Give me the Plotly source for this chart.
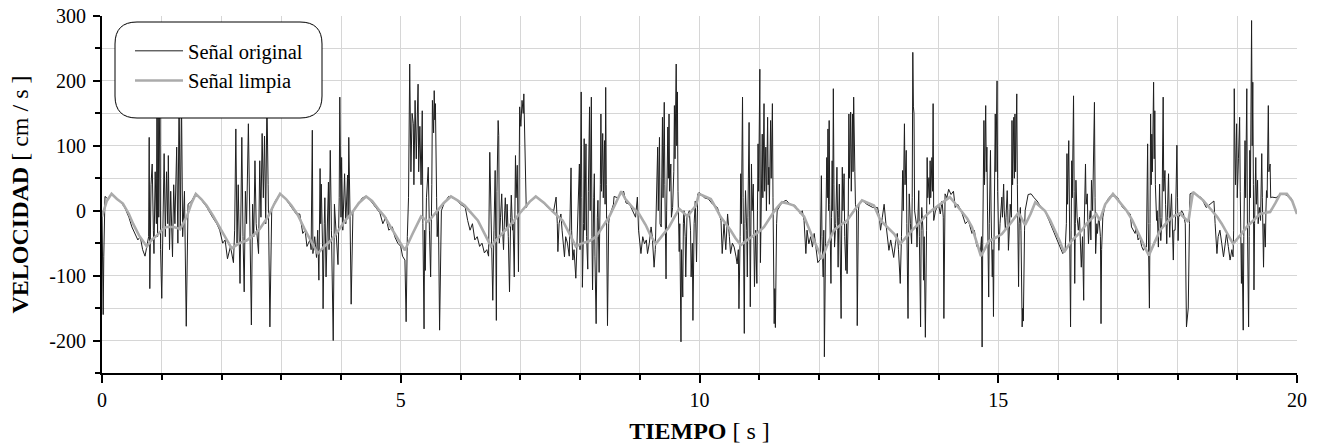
import plotly.graph_objects as go

# ---------------- data ----------------
# clean signal: (time [s], velocity [cm/s])
clean_points = [
    (0.00, -9), (0.08, 15), (0.16, 26), (0.25, 18), (0.35, 11), (0.45, -5), (0.52, -20), (0.62, -38),
    (0.75, -55), (0.83, -45), (0.92, -38), (1.00, -30), (1.08, -25), (1.20, -25), (1.31, -28), (1.42, -9),
    (1.50, 12), (1.57, 26), (1.66, 18), (1.75, 8), (1.86, -8), (1.97, -25), (2.07, -42), (2.17, -58),
    (2.30, -50), (2.42, -46), (2.53, -38), (2.64, -28), (2.78, -9), (2.88, 10), (2.98, 26), (3.08, 18),
    (3.17, 8), (3.28, -7), (3.40, -30), (3.50, -48), (3.61, -66), (3.72, -55), (3.83, -46), (3.92, -35),
    (4.00, -24), (4.08, -14), (4.17, -5), (4.30, 12), (4.42, 22), (4.52, 15), (4.62, 3), (4.73, -9),
    (4.85, -28), (4.96, -45), (5.07, -61), (5.20, -35), (5.34, -9), (5.46, -17), (5.54, -8), (5.62, 0),
    (5.72, 12), (5.84, 22), (5.95, 16), (6.07, 8), (6.18, -3), (6.29, -15), (6.40, -35), (6.51, -55),
    (6.59, -46), (6.70, -35), (6.81, -25), (6.90, -15), (6.98, -5), (7.06, 3), (7.16, 14), (7.26, 22),
    (7.40, 12), (7.54, -1), (7.62, -8), (7.71, -15), (7.82, -35), (7.93, -55), (8.04, -50), (8.15, -47),
    (8.27, -40), (8.38, -25), (8.49, -9), (8.60, 12), (8.69, 30), (8.76, 18), (8.82, 11), (8.90, 3),
    (8.99, -5), (9.10, -22), (9.18, -38), (9.27, -51), (9.38, -38), (9.49, -25), (9.58, -10), (9.66, 3),
    (9.73, -3), (9.80, -9), (9.87, 0), (9.94, 8), (9.99, 26), (10.09, 22), (10.19, 18), (10.27, 5),
    (10.35, -9), (10.44, -20), (10.52, -30), (10.60, -42), (10.69, -53), (10.80, -45), (10.91, -38),
    (11.00, -32), (11.08, -25), (11.17, -12), (11.25, -1), (11.32, 7), (11.38, 13), (11.48, 11),
    (11.58, 8), (11.66, 0), (11.75, -9), (11.88, -38), (11.96, -56), (12.05, -74), (12.15, -50),
    (12.25, -30), (12.36, -22), (12.47, -15), (12.60, 2), (12.72, 16), (12.82, 12), (12.92, 8),
    (13.03, -15), (13.14, -25), (13.26, -36), (13.36, -51), (13.46, -40), (13.56, -30), (13.67, -20),
    (13.77, -9), (13.88, 0), (14.00, 8), (14.10, 14), (14.19, 21), (14.29, 10), (14.39, -1), (14.48, -12),
    (14.56, -25), (14.63, -45), (14.71, -70), (14.78, -58), (14.84, -47), (14.95, -42), (15.06, -36),
    (15.20, -20), (15.34, -3), (15.45, -22), (15.54, -5), (15.62, 13), (15.70, 7), (15.78, 0),
    (15.87, -15), (15.95, -30), (16.03, -47), (16.10, -64), (16.17, -55), (16.23, -46), (16.32, -38),
    (16.40, -30), (16.48, -20), (16.57, -11), (16.64, -5), (16.70, -15), (16.79, 10), (16.92, 26),
    (17.03, 14), (17.15, 0), (17.24, -14), (17.32, -30), (17.42, -50), (17.52, -69), (17.62, -48),
    (17.71, -30), (17.82, -18), (17.92, -9), (18.04, -4), (18.18, -17), (18.26, 29), (18.35, 22),
    (18.43, 16), (18.55, 3), (18.66, -9), (18.74, -20), (18.82, -33), (18.93, -51), (19.05, -38),
    (19.16, -25), (19.27, -15), (19.38, -5), (19.47, -3), (19.55, -2), (19.64, 12), (19.72, 26),
    (19.83, 26), (19.92, 15), (20.00, -5),
]

# original (noisy) signal: (time [s], velocity [cm/s])
orig_points = [
    (0.00, 0), (0.02, -160), (0.03, -70), (0.05, 22), (0.10, 18), (0.16, 25), (0.22, 20), (0.30, 15),
    (0.38, 5), (0.45, -10), (0.50, -25), (0.55, -35), (0.60, -45), (0.64, -40), (0.68, -60), (0.72, -70),
    (0.75, -55), (0.78, -40), (0.79, 113), (0.80, -120), (0.82, 40), (0.84, 72), (0.86, -30), (0.87, -66),
    (0.89, 60), (0.91, -20), (0.92, 150), (0.93, -40), (0.94, 190), (0.95, -10), (0.97, 200), (0.98, -60),
    (1.00, -135), (1.02, 20), (1.04, 88), (1.06, -40), (1.08, 60), (1.10, -20), (1.11, 85), (1.13, -60),
    (1.15, 30), (1.18, -71), (1.20, 40), (1.22, -20), (1.25, 98), (1.27, -50), (1.29, 180), (1.31, -30),
    (1.33, 175), (1.35, -40), (1.38, 30), (1.41, -178), (1.44, 10), (1.50, 15), (1.57, 27), (1.65, 18),
    (1.75, 6), (1.85, -10), (1.92, -20), (1.97, -30), (2.02, -50), (2.06, -45), (2.10, -74), (2.15, -55),
    (2.20, -80), (2.22, -30), (2.24, 126), (2.26, -50), (2.28, 40), (2.31, -112), (2.33, 20), (2.34, 113),
    (2.36, -40), (2.38, -125), (2.40, 30), (2.42, -20), (2.45, 134), (2.47, -30), (2.50, -176), (2.52, 10),
    (2.54, -40), (2.56, 77), (2.58, -20), (2.62, -66), (2.64, 77), (2.66, -10), (2.68, 119), (2.70, 20),
    (2.72, 115), (2.74, -20), (2.76, 175), (2.78, 40), (2.81, -179), (2.84, 0), (2.90, 15), (2.98, 26),
    (3.06, 20), (3.15, 8), (3.25, -5), (3.31, -5), (3.34, -20), (3.36, -35), (3.40, -30), (3.43, -55),
    (3.45, -51), (3.48, -45), (3.50, -60), (3.52, 124), (3.53, -66), (3.56, -40), (3.59, -72), (3.61, -30),
    (3.63, -107), (3.65, 65), (3.66, -20), (3.67, 41), (3.69, -50), (3.70, -151), (3.72, -20), (3.73, 20),
    (3.75, -102), (3.77, -10), (3.79, 44), (3.80, -60), (3.82, 93), (3.84, -30), (3.87, -200), (3.89, 10),
    (3.92, -40), (3.95, -83), (3.97, 20), (3.98, 175), (4.00, -10), (4.01, 82), (4.03, -30), (4.06, 57),
    (4.08, -20), (4.11, 55), (4.12, -10), (4.13, 113), (4.15, 0), (4.17, -144), (4.20, 0), (4.28, 10),
    (4.36, 20), (4.42, 22), (4.50, 15), (4.58, 5), (4.65, -3), (4.70, -20), (4.75, -10), (4.80, -30),
    (4.86, -25), (4.90, -40), (4.95, -50), (5.00, -55), (5.03, -70), (5.07, -76), (5.09, -171), (5.11, -40),
    (5.13, 20), (5.15, 226), (5.17, 60), (5.19, 150), (5.21, 134), (5.22, 40), (5.24, 170), (5.26, 80),
    (5.29, 195), (5.30, 60), (5.32, 130), (5.34, 40), (5.36, 154), (5.37, -20), (5.39, -182), (5.40, -30),
    (5.41, -92), (5.43, 20), (5.46, 67), (5.48, -30), (5.50, -102), (5.52, 40), (5.53, 170), (5.55, 120),
    (5.56, 185), (5.57, 140), (5.58, 165), (5.60, 20), (5.61, -40), (5.63, 0), (5.65, -184), (5.68, 0),
    (5.72, 10), (5.80, 22), (5.86, 20), (5.92, 18), (6.00, 10), (6.08, 5), (6.12, -15), (6.16, -30),
    (6.20, -20), (6.24, -45), (6.28, -40), (6.32, -55), (6.36, -50), (6.40, -65), (6.44, -60), (6.47, -70),
    (6.49, 90), (6.51, -20), (6.52, -50), (6.54, -138), (6.56, -30), (6.58, 62), (6.59, -40), (6.60, -169),
    (6.61, 30), (6.62, 129), (6.63, 139), (6.64, 116), (6.65, -50), (6.67, -10), (6.69, 26), (6.71, -40),
    (6.72, -60), (6.74, 0), (6.75, 20), (6.77, -30), (6.78, 10), (6.80, -40), (6.82, -125), (6.84, -10),
    (6.85, 24), (6.87, -30), (6.88, -20), (6.90, -102), (6.92, 85), (6.93, 20), (6.95, 70), (6.96, -10),
    (6.97, -94), (6.99, 160), (7.01, 130), (7.03, 170), (7.05, 150), (7.06, 180), (7.08, 100), (7.09, 88),
    (7.10, 5), (7.16, 15), (7.26, 22), (7.36, 15), (7.46, 5), (7.56, 0), (7.60, 21), (7.62, -20),
    (7.63, -63), (7.65, -20), (7.68, -5), (7.70, -30), (7.74, -71), (7.76, -40), (7.79, -50), (7.82, -70),
    (7.85, 66), (7.86, -30), (7.88, -76), (7.90, -60), (7.93, -104), (7.95, -50), (7.99, 72), (8.00, -60),
    (8.02, 183), (8.03, 20), (8.04, -118), (8.06, -20), (8.07, 111), (8.08, -30), (8.10, 103), (8.11, -40),
    (8.13, -90), (8.14, 30), (8.16, 160), (8.17, 0), (8.19, 175), (8.20, -40), (8.21, -122), (8.23, 20),
    (8.24, 57), (8.25, -70), (8.27, -174), (8.29, -10), (8.30, 16), (8.31, -40), (8.32, -95), (8.34, 40),
    (8.35, 149), (8.36, 30), (8.38, 119), (8.39, 20), (8.41, 108), (8.42, 10), (8.43, 190), (8.44, 40),
    (8.46, -177), (8.48, -20), (8.49, -10), (8.56, 10), (8.57, 22), (8.63, 20), (8.68, 25), (8.73, 30),
    (8.77, 12), (8.83, 10), (8.88, 0), (8.93, -10), (8.96, 21), (8.98, -30), (9.02, -66), (9.05, -40),
    (9.08, -51), (9.11, -45), (9.13, -66), (9.16, -50), (9.19, -25), (9.21, -40), (9.24, -87), (9.26, -60),
    (9.30, 98), (9.31, 0), (9.33, 113), (9.34, -20), (9.36, -25), (9.37, 30), (9.38, 144), (9.39, 20),
    (9.41, 167), (9.42, 40), (9.44, -105), (9.45, 0), (9.47, 129), (9.48, 50), (9.49, 149), (9.50, 30),
    (9.52, 72), (9.53, -10), (9.55, 5), (9.57, 60), (9.58, 162), (9.59, 80), (9.61, 226), (9.62, 100),
    (9.63, 183), (9.64, 30), (9.66, -63), (9.67, -20), (9.69, -202), (9.70, -60), (9.72, -133), (9.73, -20),
    (9.74, 0), (9.76, -40), (9.77, -102), (9.79, -10), (9.83, 0), (9.85, -30), (9.86, -102), (9.88, -50),
    (9.89, -169), (9.91, -20), (9.93, 15), (9.95, -79), (9.97, 26), (10.00, 28), (10.08, 20), (10.15, 18),
    (10.22, 10), (10.30, 5), (10.36, -15), (10.38, -66), (10.41, -20), (10.44, -60), (10.47, -5),
    (10.50, -40), (10.52, -66), (10.55, -50), (10.58, -56), (10.61, -70), (10.63, -82), (10.65, -60),
    (10.66, -151), (10.68, -40), (10.69, 57), (10.70, -20), (10.72, 175), (10.73, 20), (10.75, -189),
    (10.76, -20), (10.77, 31), (10.79, -30), (10.80, -102), (10.81, -10), (10.83, 136), (10.84, 0),
    (10.85, -148), (10.86, -30), (10.87, 72), (10.88, 0), (10.90, 41), (10.91, -40), (10.92, -117),
    (10.94, -30), (10.96, -112), (10.97, 0), (10.98, 103), (10.99, 30), (11.01, 218), (11.02, -80),
    (11.03, -20), (11.05, 118), (11.06, 20), (11.08, 165), (11.09, 30), (11.11, 98), (11.12, 0),
    (11.14, 144), (11.15, 40), (11.16, 67), (11.17, 10), (11.19, 139), (11.20, 50), (11.22, 165),
    (11.23, 20), (11.25, -174), (11.26, -120), (11.27, -180), (11.29, -20), (11.30, 0), (11.38, 13),
    (11.45, 16), (11.52, 10), (11.60, 8), (11.69, -5), (11.72, 0), (11.75, -15), (11.78, -66), (11.80, -30),
    (11.83, -51), (11.86, -40), (11.89, -56), (11.92, -35), (11.95, -60), (11.98, -80), (12.02, -75),
    (12.03, -5), (12.04, 54), (12.05, -40), (12.07, -102), (12.08, -30), (12.09, -225), (12.11, -50),
    (12.13, 82), (12.14, 20), (12.15, 126), (12.16, 0), (12.17, 139), (12.18, 10), (12.20, -112),
    (12.21, -10), (12.22, 77), (12.23, 0), (12.24, 188), (12.25, 40), (12.26, -56), (12.28, -20),
    (12.30, 67), (12.31, 0), (12.32, -87), (12.33, -10), (12.34, 41), (12.35, -30), (12.37, -166),
    (12.38, -20), (12.39, 67), (12.40, 0), (12.42, 57), (12.43, -40), (12.45, -92), (12.46, -20),
    (12.47, -97), (12.49, 0), (12.50, 149), (12.51, 50), (12.53, 152), (12.54, 30), (12.56, 149),
    (12.57, 60), (12.58, 175), (12.60, 60), (12.61, 10), (12.63, 0), (12.64, -177), (12.66, 0), (12.67, 10),
    (12.72, 16), (12.80, 10), (12.90, 5), (12.98, 5), (13.01, -10), (13.03, -30), (13.06, -10), (13.09, 10),
    (13.12, -20), (13.15, -40), (13.17, -61), (13.20, -45), (13.23, -66), (13.25, -72), (13.28, -50),
    (13.31, -35), (13.33, -60), (13.36, -112), (13.38, -40), (13.40, 62), (13.41, 0), (13.43, 134),
    (13.44, 40), (13.46, 93), (13.47, -20), (13.49, -166), (13.50, -40), (13.51, 26), (13.53, -20),
    (13.55, -51), (13.56, 20), (13.57, 244), (13.58, 160), (13.59, 150), (13.60, 0), (13.61, -5),
    (13.63, -20), (13.64, -56), (13.65, -10), (13.67, 31), (13.68, -40), (13.70, -179), (13.71, -30),
    (13.72, 5), (13.74, -30), (13.75, -107), (13.76, -40), (13.78, -195), (13.80, -30), (13.81, 82),
    (13.82, 20), (13.84, 51), (13.85, 10), (13.86, 77), (13.87, 20), (13.89, 82), (13.90, 30), (13.91, 165),
    (13.92, -15), (13.95, 0), (14.00, 10), (14.03, -5), (14.06, 15), (14.08, -10), (14.09, -166), (14.10, 0),
    (14.11, 26), (14.14, 20), (14.17, 33), (14.21, 25), (14.25, 30), (14.28, 5), (14.32, 10), (14.38, 0),
    (14.45, -20), (14.50, -15), (14.56, -35), (14.60, -30), (14.64, -55), (14.67, -56), (14.70, -65),
    (14.72, -40), (14.73, -210), (14.74, -50), (14.76, 139), (14.77, 40), (14.79, 162), (14.80, 60),
    (14.81, 98), (14.82, 0), (14.84, -133), (14.85, -20), (14.87, 93), (14.88, 0), (14.90, -102),
    (14.91, -60), (14.92, -163), (14.93, -40), (14.95, 149), (14.96, 60), (14.98, 200), (14.99, 30),
    (15.01, -61), (15.03, -20), (15.06, 21), (15.07, -10), (15.09, 41), (15.10, 0), (15.12, -30),
    (15.13, -10), (15.15, 31), (15.16, 0), (15.17, -61), (15.19, -20), (15.20, 10), (15.22, -10),
    (15.23, 139), (15.24, 40), (15.26, 144), (15.27, 50), (15.28, 149), (15.29, 60), (15.31, 180),
    (15.32, 40), (15.34, -117), (15.35, -20), (15.37, 5), (15.38, -30), (15.40, -179), (15.41, -150),
    (15.42, -170), (15.44, -30), (15.45, 0), (15.50, 25), (15.55, 26), (15.60, 20), (15.65, 15), (15.72, 5),
    (15.78, 0), (15.85, -15), (15.92, -30), (15.98, -45), (16.04, -55), (16.08, -66), (16.12, -60),
    (16.14, -20), (16.15, 88), (16.16, 10), (16.18, 108), (16.19, 0), (16.21, -179), (16.22, -30),
    (16.23, 77), (16.24, 20), (16.26, 177), (16.27, 30), (16.28, -112), (16.29, -20), (16.30, 47),
    (16.32, -10), (16.34, -30), (16.36, -10), (16.39, -87), (16.41, -40), (16.43, -138), (16.44, -20),
    (16.46, 72), (16.47, 10), (16.49, 26), (16.50, -20), (16.51, -51), (16.53, -10), (16.54, 0),
    (16.55, -45), (16.56, 47), (16.58, 0), (16.59, 47), (16.60, 80), (16.61, 167), (16.62, 20),
    (16.63, -66), (16.65, -20), (16.66, -35), (16.68, -10), (16.69, -15), (16.71, -40), (16.72, -174),
    (16.73, -60), (16.75, -10), (16.79, 10), (16.85, 20), (16.92, 26), (17.00, 20), (17.08, 5), (17.15, 0),
    (17.21, -5), (17.23, -25), (17.26, -30), (17.29, -35), (17.31, -25), (17.34, -45), (17.37, -40),
    (17.40, -55), (17.43, -61), (17.46, -55), (17.48, -56), (17.50, 103), (17.51, -20), (17.52, -82),
    (17.53, -150), (17.54, -20), (17.55, 149), (17.56, 40), (17.57, 118), (17.58, 60), (17.60, 198),
    (17.61, 80), (17.62, 154), (17.63, 40), (17.65, -15), (17.66, 0), (17.68, -56), (17.69, -10),
    (17.70, 41), (17.71, -10), (17.72, -46), (17.74, -10), (17.76, 175), (17.77, 30), (17.79, 62),
    (17.80, 10), (17.82, -51), (17.83, -10), (17.85, 57), (17.86, 0), (17.87, -41), (17.88, -10),
    (17.90, 26), (17.91, -10), (17.93, -76), (17.94, -30), (17.96, -30), (17.97, 0), (17.99, 101),
    (18.00, 20), (18.01, -46), (18.02, -10), (18.04, -5), (18.07, 0), (18.10, -5), (18.13, -20),
    (18.15, -179), (18.16, -170), (18.18, -150), (18.20, -20), (18.21, 26), (18.26, 28), (18.32, 25),
    (18.40, 20), (18.48, 5), (18.55, 10), (18.61, 15), (18.63, -20), (18.66, -66), (18.68, -40),
    (18.71, -30), (18.74, -50), (18.77, -71), (18.80, -50), (18.82, -35), (18.85, -55), (18.88, -76),
    (18.91, -60), (18.93, -71), (18.94, -30), (18.95, 188), (18.96, 100), (18.97, 40), (18.99, 134),
    (19.00, 20), (19.02, 80), (19.04, 144), (19.05, 30), (19.07, -112), (19.08, -50), (19.10, -184),
    (19.11, -40), (19.13, 108), (19.14, 20), (19.16, 188), (19.17, -20), (19.19, -179), (19.20, -40),
    (19.21, 93), (19.22, 20), (19.24, 293), (19.25, 100), (19.26, 198), (19.27, 40), (19.28, -122),
    (19.29, -20), (19.31, 82), (19.32, 10), (19.34, 47), (19.35, -20), (19.37, 5), (19.39, -15),
    (19.41, 88), (19.42, 20), (19.44, -87), (19.45, -20), (19.47, -56), (19.48, 0), (19.49, 31),
    (19.50, 20), (19.52, 162), (19.53, 60), (19.55, 72), (19.56, 20), (19.58, 21), (19.65, 20),
    (19.72, 26), (19.80, 25), (19.90, 20), (20.00, -5),
]

y_tick_vals = [-200, -100, 0, 100, 200, 300]
y_tick_text = ["-200", "-100", "0", "100", "200", "300"]
x_tick_vals = [0, 5, 10, 15, 20]
x_tick_text = ["0", "5", "10", "15", "20"]

series_names = ["Señal original", "Señal limpia"]
x_title = "<b>TIEMPO</b> [ s ]"
y_title = "<b>VELOCIDAD</b> [ cm / s ]"

orig_t = [p[0] for p in orig_points]
orig_v = [p[1] for p in orig_points]
clean_t = [p[0] for p in clean_points]
clean_v = [p[1] for p in clean_points]

FONT = "Liberation Serif, Times New Roman, serif"
GRID = "#d6d6d6"

fig = go.Figure()
fig.add_trace(go.Scatter(x=orig_t, y=orig_v, mode="lines", name=series_names[0],
                         legendgroup="a",
                         line=dict(color="#1e1e1e", width=1)))
fig.add_trace(go.Scatter(x=clean_t, y=clean_v, mode="lines", name=series_names[1],
                         legendgroup="b",
                         line=dict(color="#ababab", width=2.6)))

# rounded legend frame (paper coordinates)
W, H = 1195.0, 357.0
bx0, bx1 = 13 / W, 220 / W
by0, by1 = (357 - 96 - 6) / H, (357 - 6) / H
rx, ry = 22 / W, 22 / H
path = (f"M {bx0+rx},{by0} L {bx1-rx},{by0} Q {bx1},{by0} {bx1},{by0+ry} "
        f"L {bx1},{by1-ry} Q {bx1},{by1} {bx1-rx},{by1} L {bx0+rx},{by1} "
        f"Q {bx0},{by1} {bx0},{by1-ry} L {bx0},{by0+ry} Q {bx0},{by0} {bx0+rx},{by0} Z")
fig.add_shape(type="path", path=path, xref="paper", yref="paper",
              fillcolor="white", line=dict(color="black", width=1), layer="above")

fig.update_layout(
    width=1317, height=448,
    margin=dict(l=102, r=20, t=16, b=75),
    paper_bgcolor="white", plot_bgcolor="white",
    font=dict(family=FONT, color="black", size=20),
    showlegend=True,
    legend=dict(x=28 / W, xanchor="left", y=(357 - 15) / H, yanchor="top",
                bgcolor="rgba(0,0,0,0)", borderwidth=0,
                font=dict(family=FONT, size=20.5, color="black"),
                itemwidth=48, tracegroupgap=11, traceorder="normal"),
)

fig.update_xaxes(
    range=[0, 20], tickmode="array", tickvals=x_tick_vals, ticktext=x_tick_text,
    ticks="outside", ticklen=8, tickwidth=2, tickcolor="black",
    showline=True, linewidth=2, linecolor="black", automargin=False,
    showgrid=True, gridcolor=GRID, gridwidth=1, zeroline=False,
    tickfont=dict(family=FONT, size=20, color="black"),
    ticklabeloverflow="allow",
    minor=dict(tickmode="linear", tick0=0, dtick=1, ticks="outside", ticklen=5,
               tickwidth=2, tickcolor="black", showgrid=True, gridcolor=GRID, gridwidth=1),
    title=dict(text=x_title, font=dict(family=FONT, size=24, color="black"), standoff=12),
)
fig.update_yaxes(
    range=[-250, 300], tickmode="array", tickvals=y_tick_vals, ticktext=y_tick_text,
    ticks="outside", ticklen=7, tickwidth=2, tickcolor="black",
    showline=True, linewidth=2, linecolor="black", automargin=False,
    showgrid=True, gridcolor=GRID, gridwidth=1, zeroline=False,
    tickfont=dict(family=FONT, size=20, color="black"),
    ticklabelstandoff=3, ticklabeloverflow="allow",
    minor=dict(tickmode="linear", tick0=0, dtick=50, ticks="outside", ticklen=5,
               tickwidth=2, tickcolor="black", showgrid=True, gridcolor=GRID, gridwidth=1),
    title=dict(text=y_title, font=dict(family=FONT, size=24, color="black"), standoff=14),
)

# remove the browser's default 8 px body margin so the figure fills the window exactly
fig.write_html("out.html", config={"displayModeBar": False},
               post_script="document.body.style.margin='0px';")
